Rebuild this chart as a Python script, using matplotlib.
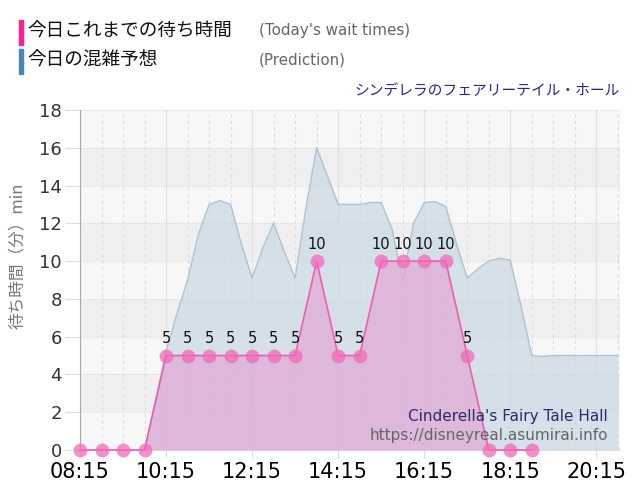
import matplotlib
matplotlib.use("Agg")
import matplotlib.pyplot as plt
from matplotlib.patches import Rectangle

plt.rcParams['font.family'] = ['DejaVu Sans', 'Noto Sans CJK JP']

# Today's wait times (every 30 min)
wait_times = ["08:15", "08:45", "09:15", "09:45", "10:15", "10:45", "11:15", "11:45",
              "12:15", "12:45", "13:15", "13:45", "14:15", "14:45", "15:15", "15:45",
              "16:15", "16:45", "17:15", "17:45", "18:15", "18:45"]
wait_values = [0, 0, 0, 0, 5, 5, 5, 5, 5, 5, 5, 10, 5, 5, 10, 10, 10, 10, 5, 0, 0, 0]

# Prediction (read every 15 min)
pred_times = ["09:45", "10:00", "10:15", "10:30", "10:45", "11:00", "11:15", "11:30",
              "11:45", "12:00", "12:15", "12:30", "12:45", "13:00", "13:15", "13:30",
              "13:45", "14:00", "14:15", "14:30", "14:45", "15:00", "15:15", "15:30",
              "15:45", "16:00", "16:15", "16:30", "16:45", "17:00", "17:15", "17:30",
              "17:45", "18:00", "18:15", "18:30", "18:45", "19:00", "19:15", "19:30",
              "19:45", "20:00", "20:15", "20:30", "20:45"]
pred_values = [0, 2.6, 5.2, 7.2, 9.0, 11.4, 13.0, 13.2,
               13.0, 10.9, 9.1, 10.7, 12.0, 10.5, 9.1, 12.8,
               16.0, 14.5, 13.0, 13.0, 13.0, 13.1, 13.1, 11.7,
               9.0, 12.0, 13.1, 13.15, 12.9, 10.9, 9.1, 9.6,
               10.0, 10.15, 10.05, 7.6, 5.0, 4.95, 5.0, 5.0,
               5.0, 5.0, 5.0, 5.0, 5.0]

tick_labels = ["08:15", "10:15", "12:15", "14:15", "16:15", "18:15", "20:15"]


def to_min(t):
    h, m = t.split(":")
    return int(h) * 60 + int(m)


wx = [to_min(t) for t in wait_times]
px = [to_min(t) for t in pred_times]
ticks = [to_min(t) for t in tick_labels]

fig = plt.figure(figsize=(6.4, 5), dpi=100)
ax = fig.add_axes([80 / 640, 50 / 500, 540 / 640, 340 / 500])
ax.set_xlim(to_min("08:15"), to_min("08:15") + 753)
ax.set_ylim(0, 18)

# background bands
ax.set_facecolor('#f7f7f7')
for k in range(0, 18, 2):
    if (k // 2) % 2 == 1:
        ax.axhspan(k, k + 2, color='#efefef', zorder=0, lw=0)

# grid
for m in range(to_min("08:15"), to_min("21:00"), 30):
    if m in ticks:
        ax.axvline(m, color='#e2e2e2', lw=0.9, zorder=1)
    else:
        ax.axvline(m, color='#dcdcdc', lw=0.8, ls=(0, (3, 3)), zorder=1)
for k in range(2, 19, 2):
    ax.axhline(k, color='#d8d8d8', lw=0.8, ls=(0, (1, 1.5)), zorder=1)

# prediction area
ax.fill_between(px, pred_values, 0, color='#c9d8e4', alpha=0.72, lw=0, zorder=2)
ax.plot(px, pred_values, color='#b0c2d0', lw=1, zorder=3)

# today's wait area
ax.fill_between(wx, wait_values, 0, color='#e2a8d6', alpha=0.7, lw=0, zorder=4)
ax.plot(wx, wait_values, color='#ec5fac', lw=1.2, zorder=5, clip_on=False)
ax.plot(wx, wait_values, 'o', ms=10, color='#f06ab8', alpha=0.75, mec='none',
        zorder=6, clip_on=False)

for x, y in zip(wx, wait_values):
    if y > 0:
        ax.annotate(str(y), (x, y), xytext=(0, 9), textcoords='offset points',
                    ha='center', va='baseline', fontsize=10.5, color='#111111', zorder=7)

# axes styling
for s in ['top', 'right']:
    ax.spines[s].set_visible(False)
ax.spines['left'].set_color('#aaaaaa')
ax.spines['bottom'].set_color('#dddddd')
ax.set_xticks(ticks)
ax.set_xticklabels(tick_labels, fontsize=15, color='black')
ax.set_yticks(range(0, 19, 2))
ax.tick_params(axis='y', labelsize=13, labelcolor='#333333', color='#dddddd',
               length=11, pad=2)
ax.tick_params(axis='x', color='#dddddd', length=6, pad=3)
ax.set_ylabel('待ち時間（分）min', family=['Noto Sans CJK JP', 'DejaVu Sans'],
              fontsize=12, color='#777777')
ax.yaxis.set_label_coords(-0.1, 0.57)

ax.text(0.978, 0.1, "Cinderella's Fairy Tale Hall", transform=ax.transAxes,
        ha='right', va='center', fontsize=11, color='#2b2b6e', zorder=8)
ax.text(0.978, 0.044, "https://disneyreal.asumirai.info", transform=ax.transAxes,
        ha='right', va='center', fontsize=11, color='#666666', zorder=8)

# legend header
jp = ['Noto Sans CJK JP', 'DejaVu Sans']
fig.patches.append(Rectangle((19 / 640, 1 - 45 / 500), 4 / 640, 25 / 500,
                             transform=fig.transFigure, color='#ff1f8f'))
fig.patches.append(Rectangle((19 / 640, 1 - 74 / 500), 4 / 640, 25 / 500,
                             transform=fig.transFigure, color='#4a86b4'))
fig.text(27 / 640, 1 - 32 / 500, '今日これまでの待ち時間', family=jp, fontsize=13.4,
         va='center', color='#111111')
fig.text(27 / 640, 1 - 61 / 500, '今日の混雑予想', family=jp, fontsize=13.4,
         va='center', color='#111111')
fig.text(259 / 640, 1 - 31 / 500, "(Today's wait times)", fontsize=10.9,
         va='center', color='#666666')
fig.text(259 / 640, 1 - 60 / 500, "(Prediction)", fontsize=10.9,
         va='center', color='#666666')
fig.text(620 / 640, 1 - 91 / 500, 'シンデレラのフェアリーテイル・ホール', family=jp,
         fontsize=10.6, ha='right', va='center', color='#2b2b78')

fig.savefig('out.png', dpi=100)
